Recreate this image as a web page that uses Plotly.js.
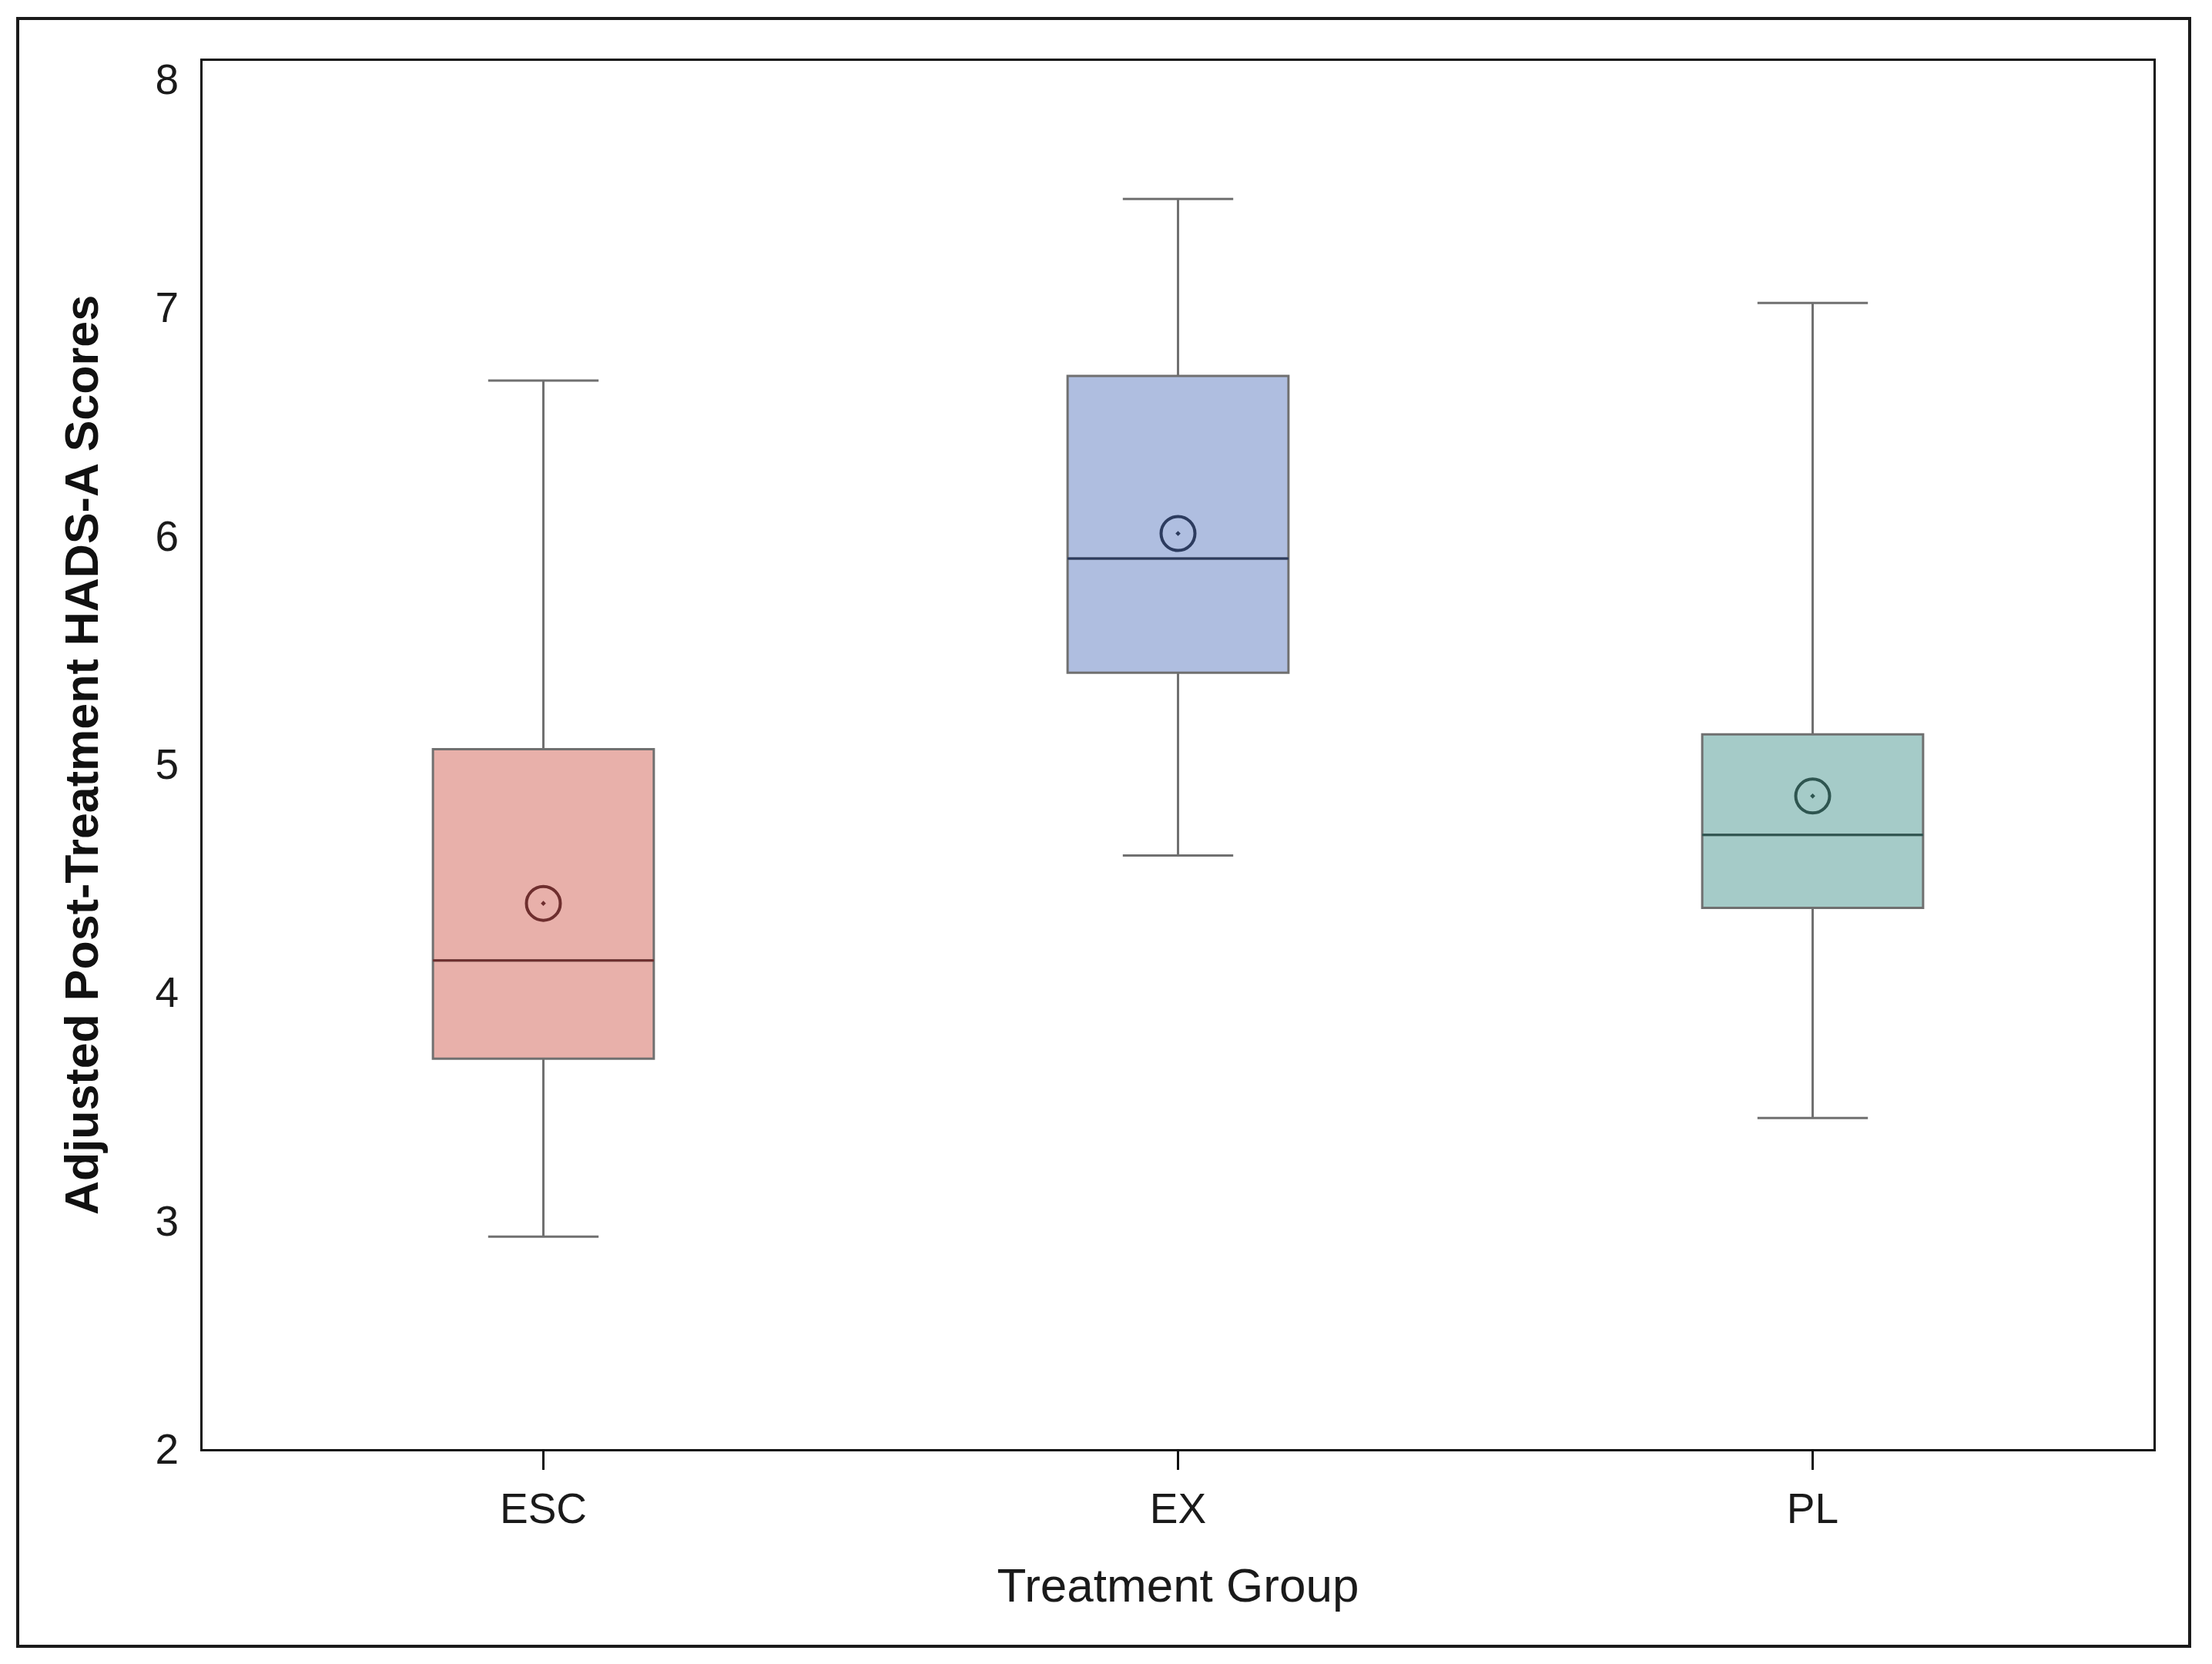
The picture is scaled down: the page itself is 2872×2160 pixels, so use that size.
<!DOCTYPE html>
<html>
<head>
<meta charset="utf-8">
<script src="https://cdn.plot.ly/plotly-3.0.1.min.js"></script>
<style>
  html, body { margin: 0; padding: 0; background: #fff; }
  #wrap { position: relative; width: 2872px; height: 2160px; }
  #chart { position: absolute; left: 0; top: 0; width: 2872px; height: 2160px; }
  #frame { position: absolute; left: 21px; top: 22px; width: 2824px; height: 2117px;
           box-sizing: border-box; border: 4px solid #1a1a1a; pointer-events: none; }
</style>
</head>
<body>
<div id="wrap"><div id="chart"></div><div id="frame"></div></div>
<script>
// ---- data ----
const groups      = ['ESC', 'EX', 'PL'];
const lowerWhisk  = [2.93, 4.60, 3.45];
const q1Values    = [3.71, 5.40, 4.37];
const medianVals  = [4.14, 5.90, 4.69];
const q3Values    = [5.065, 6.70, 5.13];
const upperWhisk  = [6.68, 7.475, 7.02];
const meanValues  = [4.39, 6.01, 4.86];
const yTickVals   = [2, 3, 4, 5, 6, 7, 8];

// ---- styles ----
const fillColors  = ['#E8B0AA', '#AFBEE0', '#A5CBC8'];
const darkColors  = ['#6E2E2E', '#2C3B5E', '#2E5550'];
const boxWidth = 0.348;
const font = 'Liberation Sans, Arial, sans-serif';

const traces = [];
groups.forEach((g, i) => {
  traces.push({
    type: 'box', x: [g], name: g,
    q1: [q1Values[i]], median: [medianVals[i]], q3: [q3Values[i]],
    lowerfence: [lowerWhisk[i]], upperfence: [upperWhisk[i]],
    fillcolor: fillColors[i], line: { color: '#707070', width: 3 },
    width: boxWidth, whiskerwidth: 0.5, boxpoints: false,
    hoverinfo: 'skip', showlegend: false
  });
  // darker median line drawn over the box
  traces.push({
    type: 'box', x: [g], name: g + ' median',
    q1: [medianVals[i]], median: [medianVals[i]], q3: [medianVals[i]],
    lowerfence: [medianVals[i]], upperfence: [medianVals[i]],
    fillcolor: 'rgba(0,0,0,0)', line: { color: darkColors[i], width: 3 },
    width: boxWidth, whiskerwidth: 0, boxpoints: false,
    hoverinfo: 'skip', showlegend: false
  });
});
traces.push({
  type: 'scatter', mode: 'markers', x: groups, y: meanValues,
  marker: { symbol: 'circle-open-dot', size: 44, color: darkColors, line: { width: 4, color: darkColors } },
  hoverinfo: 'skip', showlegend: false
});

const layout = {
  width: 2872, height: 2160,
  margin: { l: 263, r: 76, t: 79, b: 279, pad: 0 },
  paper_bgcolor: '#ffffff', plot_bgcolor: '#ffffff',
  boxmode: 'overlay', showlegend: false,
  font: { family: font, color: '#1a1a1a', size: 55 },
  xaxis: {
    type: 'category', categoryorder: 'array', categoryarray: groups,
    range: [-0.537, 2.537],
    showline: true, mirror: true, linecolor: '#111', linewidth: 3,
    ticks: 'outside', ticklen: 24, tickwidth: 3, tickcolor: '#111',
    tickfont: { family: font, size: 55, color: '#1a1a1a' },
    ticklabelstandoff: 3,
    showgrid: false, zeroline: false,
    title: { text: 'Treatment Group', font: { family: font, size: 62, color: '#1a1a1a' }, standoff: 48 }
  },
  yaxis: {
    range: [2, 8.08], tickvals: yTickVals, ticktext: yTickVals.map(String),
    showline: true, mirror: true, linecolor: '#111', linewidth: 3,
    ticks: '', ticklabelstandoff: 17,
    tickfont: { family: font, size: 55, color: '#1a1a1a' },
    showgrid: false, zeroline: false,
    title: { text: '<b>Adjusted Post-Treatment HADS-A Scores</b>', font: { family: font, size: 61, color: '#111' }, standoff: 55 }
  }
};

Plotly.newPlot('chart', traces, layout, { displayModeBar: false, staticPlot: true });
</script>
</body>
</html>
